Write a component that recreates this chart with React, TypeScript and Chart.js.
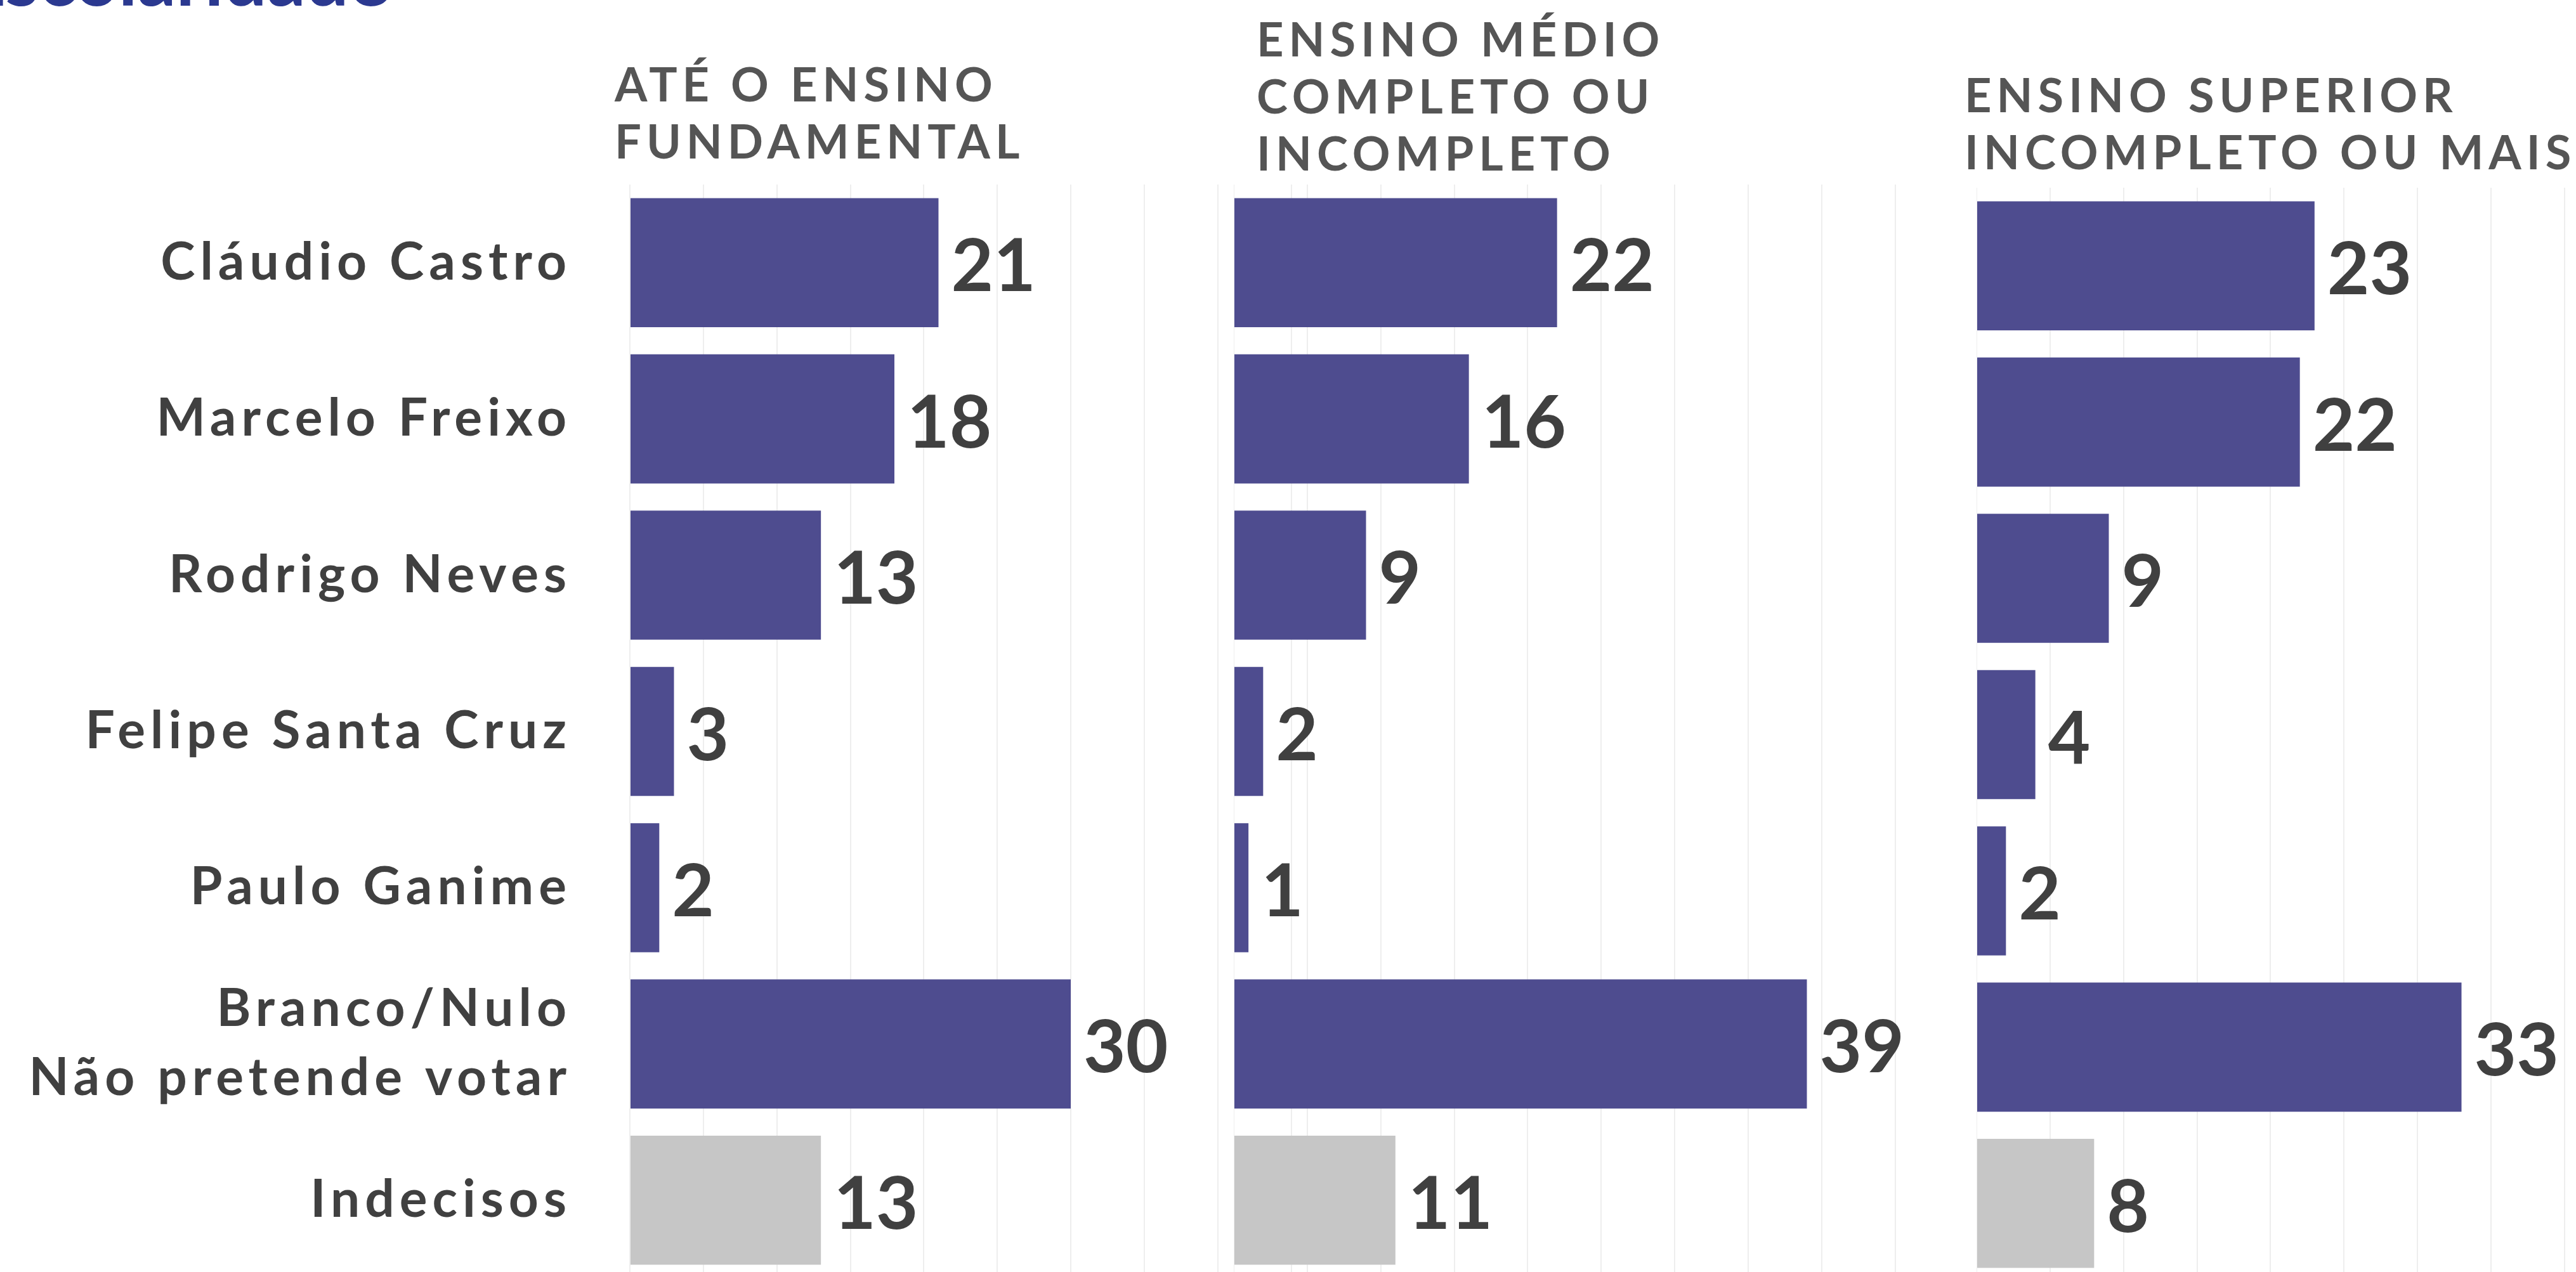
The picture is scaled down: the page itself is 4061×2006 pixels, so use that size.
import React, { useEffect, useRef } from 'react';
import { Chart, registerables } from 'chart.js';

Chart.register(...registerables);

// ---------- data ----------
const CATEGORIES: (string | string[])[] = [
  'Cláudio Castro',
  'Marcelo Freixo',
  'Rodrigo Neves',
  'Felipe Santa Cruz',
  'Paulo Ganime',
  ['Branco/Nulo', 'Não pretende votar'],
  'Indecisos',
];
const VALUES_FUNDAMENTAL = [21, 18, 13, 3, 2, 30, 13];
const VALUES_MEDIO = [22, 16, 9, 2, 1, 39, 11];
const VALUES_SUPERIOR = [23, 22, 9, 4, 2, 33, 8];
const HEADER_FUNDAMENTAL = ['ATÉ O ENSINO', 'FUNDAMENTAL'];
const HEADER_MEDIO = ['ENSINO MÉDIO', 'COMPLETO OU', 'INCOMPLETO'];
const HEADER_SUPERIOR = ['ENSINO SUPERIOR', 'INCOMPLETO OU MAIS'];
const PAGE_TITLE = 'Escolaridade';
const X_MAX = 48;
const X_STEP = 5;

// ---------- style ----------
const W = 4061;
const H = 2006;
const PURPLE = '#4E4C8F';
const GRAY = '#C6C6C6';
const TEXT = '#404040';
const HEADER_COLOR = '#555555';
const TITLE_COLOR = '#2B3990';
const FONT = 'Lato, "Open Sans", sans-serif';
const LABEL_SPACING = 8;

const AXIS_W = 993;
const PLOT_W = 1112;
const PLOT_H = 1725;

const letterSpacing = {
  id: 'letterSpacing',
  beforeUpdate(chart: any) {
    chart.ctx.letterSpacing = `${LABEL_SPACING}px`;
  },
  beforeDraw(chart: any) {
    chart.ctx.letterSpacing = `${LABEL_SPACING}px`;
  },
};

const valueLabels = {
  id: 'valueLabels',
  afterDatasetsDraw(chart: any) {
    const ctx = chart.ctx;
    const meta = chart.getDatasetMeta(0);
    const data = chart.data.datasets[0].data;
    ctx.save();
    ctx.letterSpacing = '0px';
    ctx.font = `bold 115px ${FONT}`;
    ctx.fillStyle = TEXT;
    ctx.textAlign = 'left';
    ctx.textBaseline = 'alphabetic';
    meta.data.forEach((bar: any, i: number) => {
      ctx.fillText(String(data[i]), bar.x + 20, bar.y + 45);
    });
    ctx.restore();
  },
};

function Panel(props: { values: number[]; showAxis: boolean; left: number; top: number }) {
  const { values, showAxis, left, top } = props;
  const ref = useRef<HTMLCanvasElement>(null);
  const width = (showAxis ? AXIS_W : 0) + PLOT_W;
  useEffect(() => {
    if (!ref.current) return;
    const colors = values.map((_, i) => (i === values.length - 1 ? GRAY : PURPLE));
    const chart = new Chart(ref.current, {
      type: 'bar',
      data: {
        labels: CATEGORIES as any,
        datasets: [
          {
            data: values,
            backgroundColor: colors,
            borderWidth: 0,
            barPercentage: 0.826,
            categoryPercentage: 1,
          },
        ],
      },
      options: {
        indexAxis: 'y',
        responsive: false,
        animation: false,
        devicePixelRatio: 1,
        layout: { padding: 0 },
        plugins: { legend: { display: false }, tooltip: { enabled: false }, title: { display: false } },
        scales: {
          x: {
            type: 'linear',
            position: 'bottom',
            min: 0,
            max: X_MAX,
            ticks: { display: false, stepSize: X_STEP, includeBounds: false },
            grid: { color: '#EEEEEE', lineWidth: 2, drawTicks: false },
            border: { display: false },
            afterFit: (s: any) => {
              s.height = 0;
              s.paddingLeft = 0;
              s.paddingRight = 0;
            },
          },
          y: {
            type: 'category',
            display: showAxis,
            grid: { display: false, drawTicks: false },
            border: { display: false },
            ticks: {
              color: TEXT,
              padding: 100 - LABEL_SPACING,
              autoSkip: false,
              font: { family: FONT, size: 82, weight: 'bold', lineHeight: 1.33 },
            },
            afterFit: (s: any) => {
              s.width = showAxis ? AXIS_W : 0;
              s.paddingTop = 0;
              s.paddingBottom = 0;
            },
          },
        },
      } as any,
      plugins: [letterSpacing, valueLabels],
    });
    return () => chart.destroy();
  }, []);
  return (
    <canvas
      ref={ref}
      width={width}
      height={PLOT_H}
      style={{ position: 'absolute', left, top, width, height: PLOT_H, display: 'block' }}
    />
  );
}

function Header(props: { lines: string[]; left: number; top: number }) {
  return (
    <div
      style={{
        position: 'absolute',
        left: props.left,
        top: props.top,
        fontFamily: FONT,
        fontWeight: 700,
        fontSize: 74,
        lineHeight: '90px',
        letterSpacing: 8,
        color: HEADER_COLOR,
        whiteSpace: 'nowrap',
      }}
    >
      {props.lines.map((l, i) => (
        <div key={i}>{l}</div>
      ))}
    </div>
  );
}

export default function App() {
  return (
    <div
      style={{
        position: 'absolute',
        left: 0,
        top: 0,
        width: W,
        height: H,
        overflow: 'hidden',
        background: '#FFFFFF',
      }}
    >
      <div
        style={{
          position: 'absolute',
          right: W - 614,
          top: -97,
          fontFamily: FONT,
          fontWeight: 700,
          fontSize: 120,
          lineHeight: '120px',
          color: TITLE_COLOR,
          whiteSpace: 'nowrap',
        }}
      >
        {PAGE_TITLE}
      </div>
      <Header lines={HEADER_FUNDAMENTAL} left={969} top={87} />
      <Header lines={HEADER_MEDIO} left={1981} top={16} />
      <Header lines={HEADER_SUPERIOR} left={3097} top={104} />
      <Panel values={VALUES_FUNDAMENTAL} showAxis={true} left={0} top={291} />
      <Panel values={VALUES_MEDIO} showAxis={false} left={1945} top={291} />
      <Panel values={VALUES_SUPERIOR} showAxis={false} left={3116} top={296} />
    </div>
  );
}
